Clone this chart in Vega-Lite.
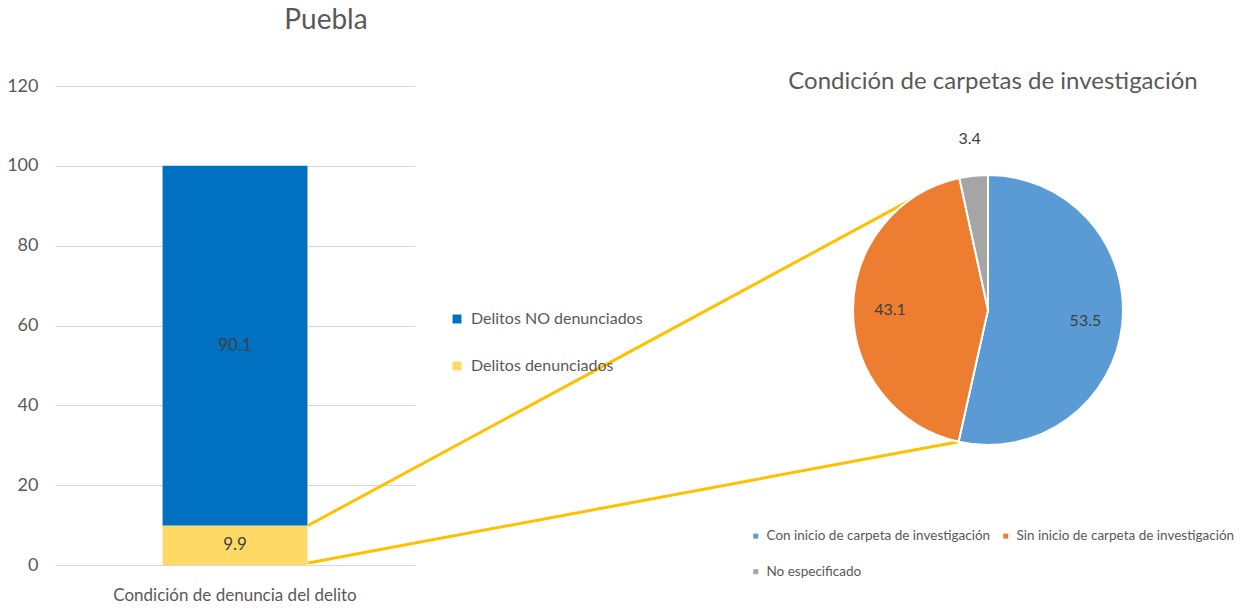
{
  "$schema": "https://vega.github.io/schema/vega-lite/v6.json",
  "background": "white",
  "padding": {"left": 6, "top": 7, "right": 5, "bottom": 5},
  "config": {
    "view": {"stroke": null},
    "font": "Lato, sans-serif"
  },
  "bounds": "flush",
  "spacing": 423,
  "hconcat": [
    {
      "width": 360,
      "height": 479,
      "title": {"text": "Puebla", "fontSize": 28, "fontWeight": "normal", "color": "#595959", "offset": 42, "dx": 91, "anchor": "middle"},
      "data": {"values": [
        {"condicion": "Condición de denuncia del delito", "estado": "Delitos denunciados", "valor": 9.9, "orden": 1},
        {"condicion": "Condición de denuncia del delito", "estado": "Delitos NO denunciados", "valor": 90.1, "orden": 2}
      ]},
      "layer": [
        {
          "layer": [
            {
              "mark": {"type": "bar"},
              "encoding": {
                "x": {"field": "condicion", "type": "nominal", "title": null,
                      "scale": {"paddingInner": 0.426, "paddingOuter": 0.426},
                      "axis": {"labelAngle": 0, "labelFontSize": 17, "labelColor": "#595959", "labelPadding": 22, "labelLimit": 0, "domain": false, "ticks": false}},
                "y": {"field": "valor", "type": "quantitative", "stack": "zero", "title": null,
                      "scale": {"domain": [0, 120], "nice": false},
                      "axis": {"values": [0, 20, 40, 60, 80, 100, 120], "grid": true, "gridColor": "#D9D9D9", "domain": false, "ticks": false, "labelFontSize": 18, "labelColor": "#595959", "labelPadding": 17}},
                "color": {"field": "estado", "type": "nominal",
                          "scale": {"domain": ["Delitos NO denunciados", "Delitos denunciados"], "range": ["#0070C0", "#FFD966"]},
                          "legend": {"title": null, "orient": "none", "legendX": 394, "legendY": 225, "symbolType": "square", "symbolSize": 80, "labelFontSize": 16, "labelColor": "#595959", "labelLimit": 0, "rowPadding": 31, "labelOffset": 6, "padding": 0, "symbolStrokeWidth": 0}},
                "order": {"field": "orden", "type": "quantitative"}
              }
            },
            {
              "transform": [
                {"stack": "valor", "groupby": ["condicion"], "sort": [{"field": "orden"}], "as": ["v0", "v1"]},
                {"fold": ["v0", "v1"], "as": ["k", "pos"]}
              ],
              "mark": {"type": "text", "fontSize": 17, "color": "#404040"},
              "encoding": {
                "x": {"field": "condicion", "type": "nominal", "title": null},
                "y": {"aggregate": "mean", "field": "pos", "type": "quantitative", "title": null},
                "text": {"field": "valor", "type": "quantitative", "format": ".1f"}
              }
            }
          ]
        },
        {
          "data": {"values": [{}]},
          "mark": {"type": "rule", "color": "#FFC000", "strokeWidth": 3},
          "encoding": {
            "x": {"datum": 0.703, "type": "quantitative", "scale": {"domain": [0, 1]}, "axis": null},
            "x2": {"datum": 2.417},
            "y": {"datum": 9.9, "type": "quantitative", "title": null},
            "y2": {"datum": 93.4}
          }
        },
        {
          "data": {"values": [{}]},
          "mark": {"type": "rule", "color": "#FFC000", "strokeWidth": 3},
          "encoding": {
            "x": {"datum": 0.703, "type": "quantitative", "scale": {"domain": [0, 1]}, "axis": null},
            "x2": {"datum": 2.51},
            "y": {"datum": 0.5, "type": "quantitative", "title": null},
            "y2": {"datum": 30.9}
          }
        }
      ],
      "resolve": {"scale": {"x": "independent"}}
    },
    {
      "width": 300,
      "height": 448,
      "title": {"text": "Condición de carpetas de investigación", "fontSize": 24, "fontWeight": "normal", "color": "#595959", "offset": -8, "dx": 5, "anchor": "middle"},
      "data": {"values": [
        {"categoria": "Con inicio de carpeta de investigación", "pct": 53.5, "orden": 1},
        {"categoria": "Sin inicio de carpeta de investigación", "pct": 43.1, "orden": 2},
        {"categoria": "No especificado", "pct": 3.4, "orden": 3}
      ]},
      "layer": [
        {
          "mark": {"type": "arc", "outerRadius": 135, "stroke": "white", "strokeWidth": 2},
          "encoding": {
            "theta": {"field": "pct", "type": "quantitative", "stack": true},
            "order": {"field": "orden", "type": "quantitative"},
            "fill": {"field": "categoria", "type": "nominal",
                     "scale": {"domain": ["Con inicio de carpeta de investigación", "Sin inicio de carpeta de investigación", "No especificado"], "range": ["#5B9BD5", "#ED7D31", "#A5A5A5"]},
                     "legend": {"title": null, "orient": "none", "legendX": 694, "legendY": 443, "direction": "horizontal", "columns": 2, "symbolType": "square", "symbolSize": 25, "labelFontSize": 13.5, "labelColor": "#595959", "labelLimit": 0, "rowPadding": 21, "columnPadding": 8, "labelOffset": 4, "padding": 0, "symbolStrokeWidth": 0}}
          }
        },
        {
          "mark": {"type": "text", "radius": 98, "fontSize": 16, "color": "#404040"},
          "encoding": {
            "theta": {"field": "pct", "type": "quantitative", "stack": true},
            "order": {"field": "orden", "type": "quantitative"},
            "text": {"condition": {"test": "datum.orden == 3", "value": ""}, "field": "pct", "type": "quantitative", "format": ".1f"}
          }
        },
        {
          "mark": {"type": "text", "radius": 172, "fontSize": 16, "color": "#404040"},
          "encoding": {
            "theta": {"field": "pct", "type": "quantitative", "stack": true},
            "order": {"field": "orden", "type": "quantitative"},
            "text": {"condition": {"test": "datum.orden != 3", "value": ""}, "field": "pct", "type": "quantitative", "format": ".1f"}
          }
        }
      ]
    }
  ]
}
